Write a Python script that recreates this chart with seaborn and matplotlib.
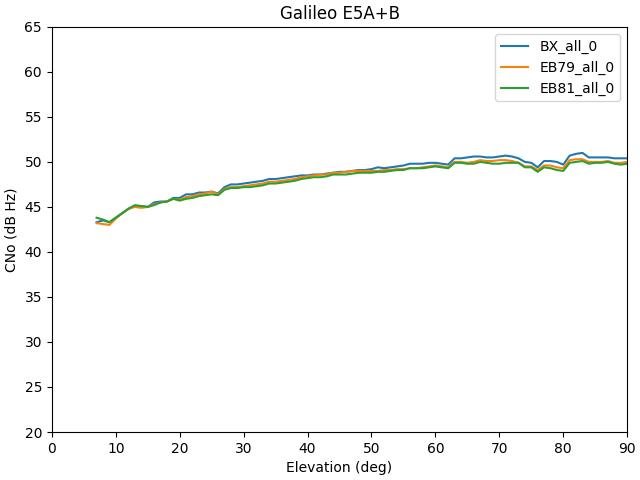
import numpy as np
import pandas as pd
import matplotlib
matplotlib.use('Agg')
import matplotlib.pyplot as plt
import seaborn as sns

elev = list(range(7, 91))

bx = [43.3, 43.5, 43.3, 43.8, 44.3, 44.8, 45.1, 45.1, 45.0, 45.5,
      45.6, 45.6, 46.0, 46.0, 46.4, 46.4, 46.6, 46.6, 46.7, 46.5,
      47.2, 47.5, 47.5, 47.6, 47.7, 47.8, 47.9, 48.1, 48.1, 48.2,
      48.3, 48.4, 48.5, 48.5, 48.6, 48.6, 48.7, 48.8, 48.9, 48.9,
      49.0, 49.1, 49.1, 49.2, 49.4, 49.3, 49.4, 49.5, 49.6, 49.8,
      49.8, 49.8, 49.9, 49.9, 49.8, 49.7, 50.4, 50.4, 50.5, 50.6,
      50.6, 50.5, 50.5, 50.6, 50.7, 50.6, 50.4, 50.0, 49.9, 49.4,
      50.1, 50.1, 50.0, 49.7, 50.7, 50.9, 51.0, 50.5, 50.5, 50.5,
      50.5, 50.4, 50.4, 50.4]

eb79 = [43.2, 43.1, 43.0, 43.7, 44.3, 44.8, 45.0, 44.9, 45.0, 45.3,
        45.5, 45.6, 45.9, 45.8, 46.1, 46.2, 46.4, 46.5, 46.7, 46.4,
        47.0, 47.2, 47.2, 47.3, 47.4, 47.5, 47.6, 47.8, 47.8, 47.9,
        48.0, 48.1, 48.3, 48.4, 48.5, 48.6, 48.6, 48.8, 48.8, 48.9,
        49.0, 49.0, 49.0, 49.0, 49.0, 49.1, 49.1, 49.2, 49.2, 49.3,
        49.3, 49.4, 49.5, 49.6, 49.5, 49.4, 50.0, 50.0, 49.9, 50.0,
        50.2, 50.1, 50.1, 50.2, 50.2, 50.1, 49.9, 49.5, 49.5, 49.1,
        49.6, 49.6, 49.4, 49.3, 50.2, 50.3, 50.3, 50.0, 50.0, 50.0,
        50.1, 49.9, 49.9, 50.0]

eb81 = [43.8, 43.6, 43.3, 43.8, 44.3, 44.8, 45.2, 45.1, 45.0, 45.2,
        45.5, 45.6, 45.9, 45.7, 45.9, 46.0, 46.2, 46.3, 46.4, 46.3,
        46.9, 47.1, 47.1, 47.2, 47.2, 47.3, 47.4, 47.6, 47.6, 47.7,
        47.8, 47.9, 48.1, 48.2, 48.3, 48.3, 48.4, 48.6, 48.6, 48.6,
        48.7, 48.8, 48.8, 48.8, 48.9, 48.9, 49.0, 49.1, 49.1, 49.3,
        49.3, 49.3, 49.4, 49.5, 49.4, 49.3, 49.9, 49.9, 49.8, 49.8,
        50.0, 49.9, 49.8, 49.8, 49.9, 49.9, 49.9, 49.4, 49.4, 48.9,
        49.4, 49.3, 49.1, 49.0, 49.9, 50.0, 50.1, 49.8, 49.9, 49.9,
        50.0, 49.8, 49.7, 49.8]

df = pd.DataFrame({'Elevation': elev * 3,
                   'CNo': bx + eb79 + eb81,
                   'rx': ['BX_all_0'] * len(elev) + ['EB79_all_0'] * len(elev) + ['EB81_all_0'] * len(elev)})

fig, ax = plt.subplots(figsize=(6.4, 4.8), dpi=100)
sns.lineplot(data=df, x='Elevation', y='CNo', hue='rx', ax=ax,
             palette=['#1f77b4', '#ff7f0e', '#2ca02c'])
ax.set_xlim(0, 90)
ax.set_ylim(20, 65)
ax.set_title('Galileo E5A+B')
ax.set_xlabel('Elevation (deg)')
ax.set_ylabel('CNo (dB Hz)')
ax.legend(loc='upper right')
fig.subplots_adjust(left=0.081, right=0.98, top=0.944, bottom=0.1)
plt.savefig('out.png')
